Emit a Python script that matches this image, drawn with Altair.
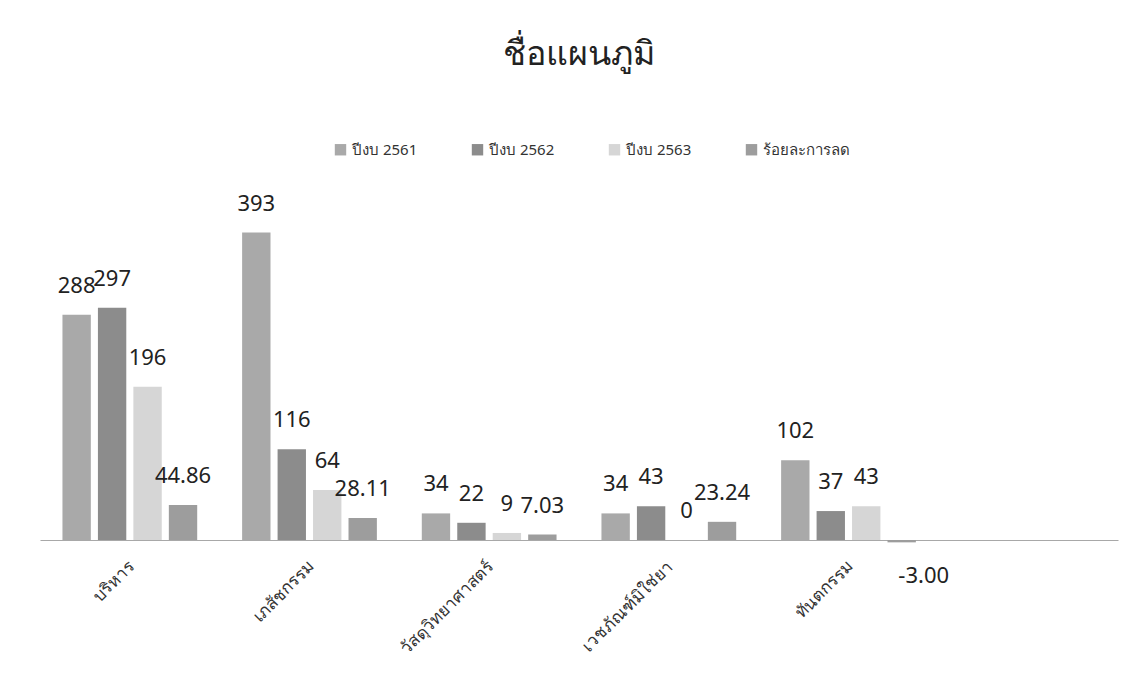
import altair as alt
import pandas as pd

categories = ["บริหาร", "เภสัชกรรม", "วัสดุวิทยาศาสตร์", "เวชภัณฑ์มิใช่ยา", "ทันตกรรม"]
series = ["ปีงบ 2561", "ปีงบ 2562", "ปีงบ 2563", "ร้อยละการลด"]
v2561 = [288, 393, 34, 34, 102]
v2562 = [297, 116, 22, 43, 37]
v2563 = [196, 64, 9, 0, 43]
pct = [44.86, 28.11, 7.03, 23.24, -3.00]
labels2561 = ["288", "393", "34", "34", "102"]
labels2562 = ["297", "116", "22", "43", "37"]
labels2563 = ["196", "64", "9", "0", "43"]
labelsPct = ["44.86", "28.11", "7.03", "23.24", "-3.00"]
colors = ["#a9a9a9", "#8c8c8c", "#d6d6d6", "#9d9d9d"]

rows = []
for vals, labs, s in [(v2561, labels2561, series[0]), (v2562, labels2562, series[1]),
                      (v2563, labels2563, series[2]), (pct, labelsPct, series[3])]:
    for c, v, l in zip(categories, vals, labs):
        rows.append({"cat": c, "series": s, "value": v, "label": l})
df = pd.DataFrame(rows)

FONT = "Noto Sans"
xdomain = categories + [" "]

x = alt.X("cat:N", sort=xdomain,
          scale=alt.Scale(domain=xdomain, paddingInner=0.25, paddingOuter=0.125),
          axis=alt.Axis(title=None, labelAngle=-45, labelAlign="right", labelBaseline="top",
                        labelFont=FONT, labelFontSize=17, labelColor="#333", labelPadding=18,
                        ticks=False, domainColor="#a8a8a8", domainWidth=1.2, labelOffset=-4,
                        labelLimit=200))
xo = alt.XOffset("series:N", sort=series,
                 scale=alt.Scale(domain=series, paddingInner=0.2, paddingOuter=0))
yscale = alt.Scale(domain=[0, 450], nice=False)
y = alt.Y("value:Q", scale=yscale, axis=None)

base = alt.Chart(df)
bars = base.mark_bar(clip=False).encode(
    x=x, xOffset=xo, y=y,
    color=alt.Color("series:N", sort=series,
                    scale=alt.Scale(domain=series, range=colors),
                    legend=alt.Legend(title=None, orient="none", direction="horizontal",
                                      legendX=293, legendY=-46, columns=4,
                                      symbolType="square", symbolSize=130,
                                      labelFont=FONT, labelFontSize=15, labelColor="#333",
                                      columnPadding=52, symbolOpacity=1)),
)
pos_text = base.transform_filter("datum.value >= 0").mark_text(
    baseline="bottom", dy=-17, font=FONT, fontSize=22, color="#222"
).encode(x=x, xOffset=xo, y=y, text="label:N")
neg_text = base.transform_filter("datum.value < 0").mark_text(
    baseline="top", dy=24, dx=22, font=FONT, fontSize=22, color="#222"
).encode(x=x, xOffset=xo, y=y, text="label:N")

chart = alt.layer(bars, pos_text, neg_text).properties(
    width=1078, height=352,
    title=alt.TitleParams("ชื่อแผนภูมิ", font=FONT, fontSize=34, fontWeight="normal",
                          color="#222", anchor="middle", offset=70),
    autosize=alt.AutoSizeParams(type="none"),
    padding={"left": 32, "top": 180, "right": 12, "bottom": 130},
).configure_view(stroke=None)

chart.save("out.html", embed_options={"renderer": "svg", "actions": False})
